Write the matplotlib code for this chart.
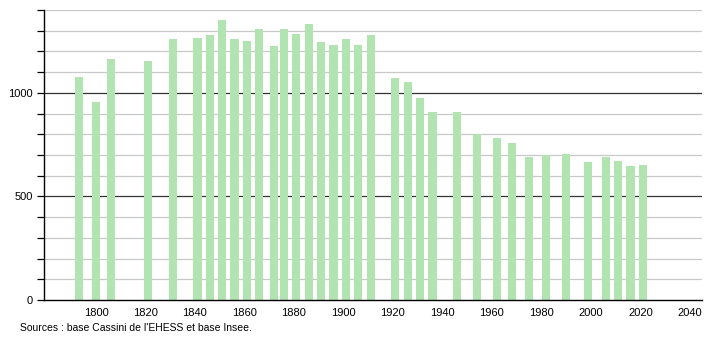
import matplotlib.pyplot as plt
import numpy as np

plt.rcParams["font.family"] = ["Liberation Sans", "DejaVu Sans"]

years = [1793, 1800, 1806, 1821, 1831, 1841, 1846, 1851, 1856, 1861, 1866, 1872,
         1876, 1881, 1886, 1891, 1896, 1901, 1906, 1911, 1921, 1926, 1931, 1936,
         1946, 1954, 1962, 1968, 1975, 1982, 1990, 1999, 2006, 2011, 2016, 2021]
population = [1075, 954, 1162, 1152, 1259, 1264, 1278, 1351, 1259, 1249, 1307, 1225,
              1307, 1283, 1332, 1245, 1230, 1259, 1230, 1278, 1070, 1051, 973, 906,
              906, 799, 780, 760, 688, 702, 707, 668, 692, 673, 649, 654]
x_ticks = [1800, 1820, 1840, 1860, 1880, 1900, 1920, 1940, 1960, 1980, 2000, 2020, 2040]
y_ticks = [0, 500, 1000]
source_text = "Sources : base Cassini de l'EHESS et base Insee."

fig = plt.figure(figsize=(7.1, 3.4), dpi=100)
ax = fig.add_axes([0.062, 0.1176, 0.927, 0.853])

# grid every 100, darker at 500 / 1000
for v in range(100, 1500, 100):
    if v % 500 == 0:
        ax.axhline(v, color="#333333", lw=0.9, zorder=1)
    else:
        ax.axhline(v, color="#c8c8c8", lw=0.9, zorder=1)

ax.bar(years, population, width=3.3, color="#b2e4b2", zorder=2)

ax.set_xlim(1779, 2045)
ax.set_ylim(0, 1400)
ax.set_xticks(x_ticks)
ax.set_xticklabels([str(t) for t in x_ticks])
ax.set_yticks(y_ticks)
ax.set_yticks(np.arange(0, 1500, 100), minor=True)
ax.tick_params(axis="x", length=0, labelsize=8, pad=6)
ax.tick_params(axis="y", which="both", direction="out", length=5, width=0.9,
               labelsize=8, pad=3)

for side in ["top", "right"]:
    ax.spines[side].set_visible(False)
ax.spines["left"].set_linewidth(1)
ax.spines["bottom"].set_linewidth(1)

fig.text(0.028, 0.035, source_text, fontsize=7.5, va="center", ha="left")

fig.savefig("out.png", dpi=100)
